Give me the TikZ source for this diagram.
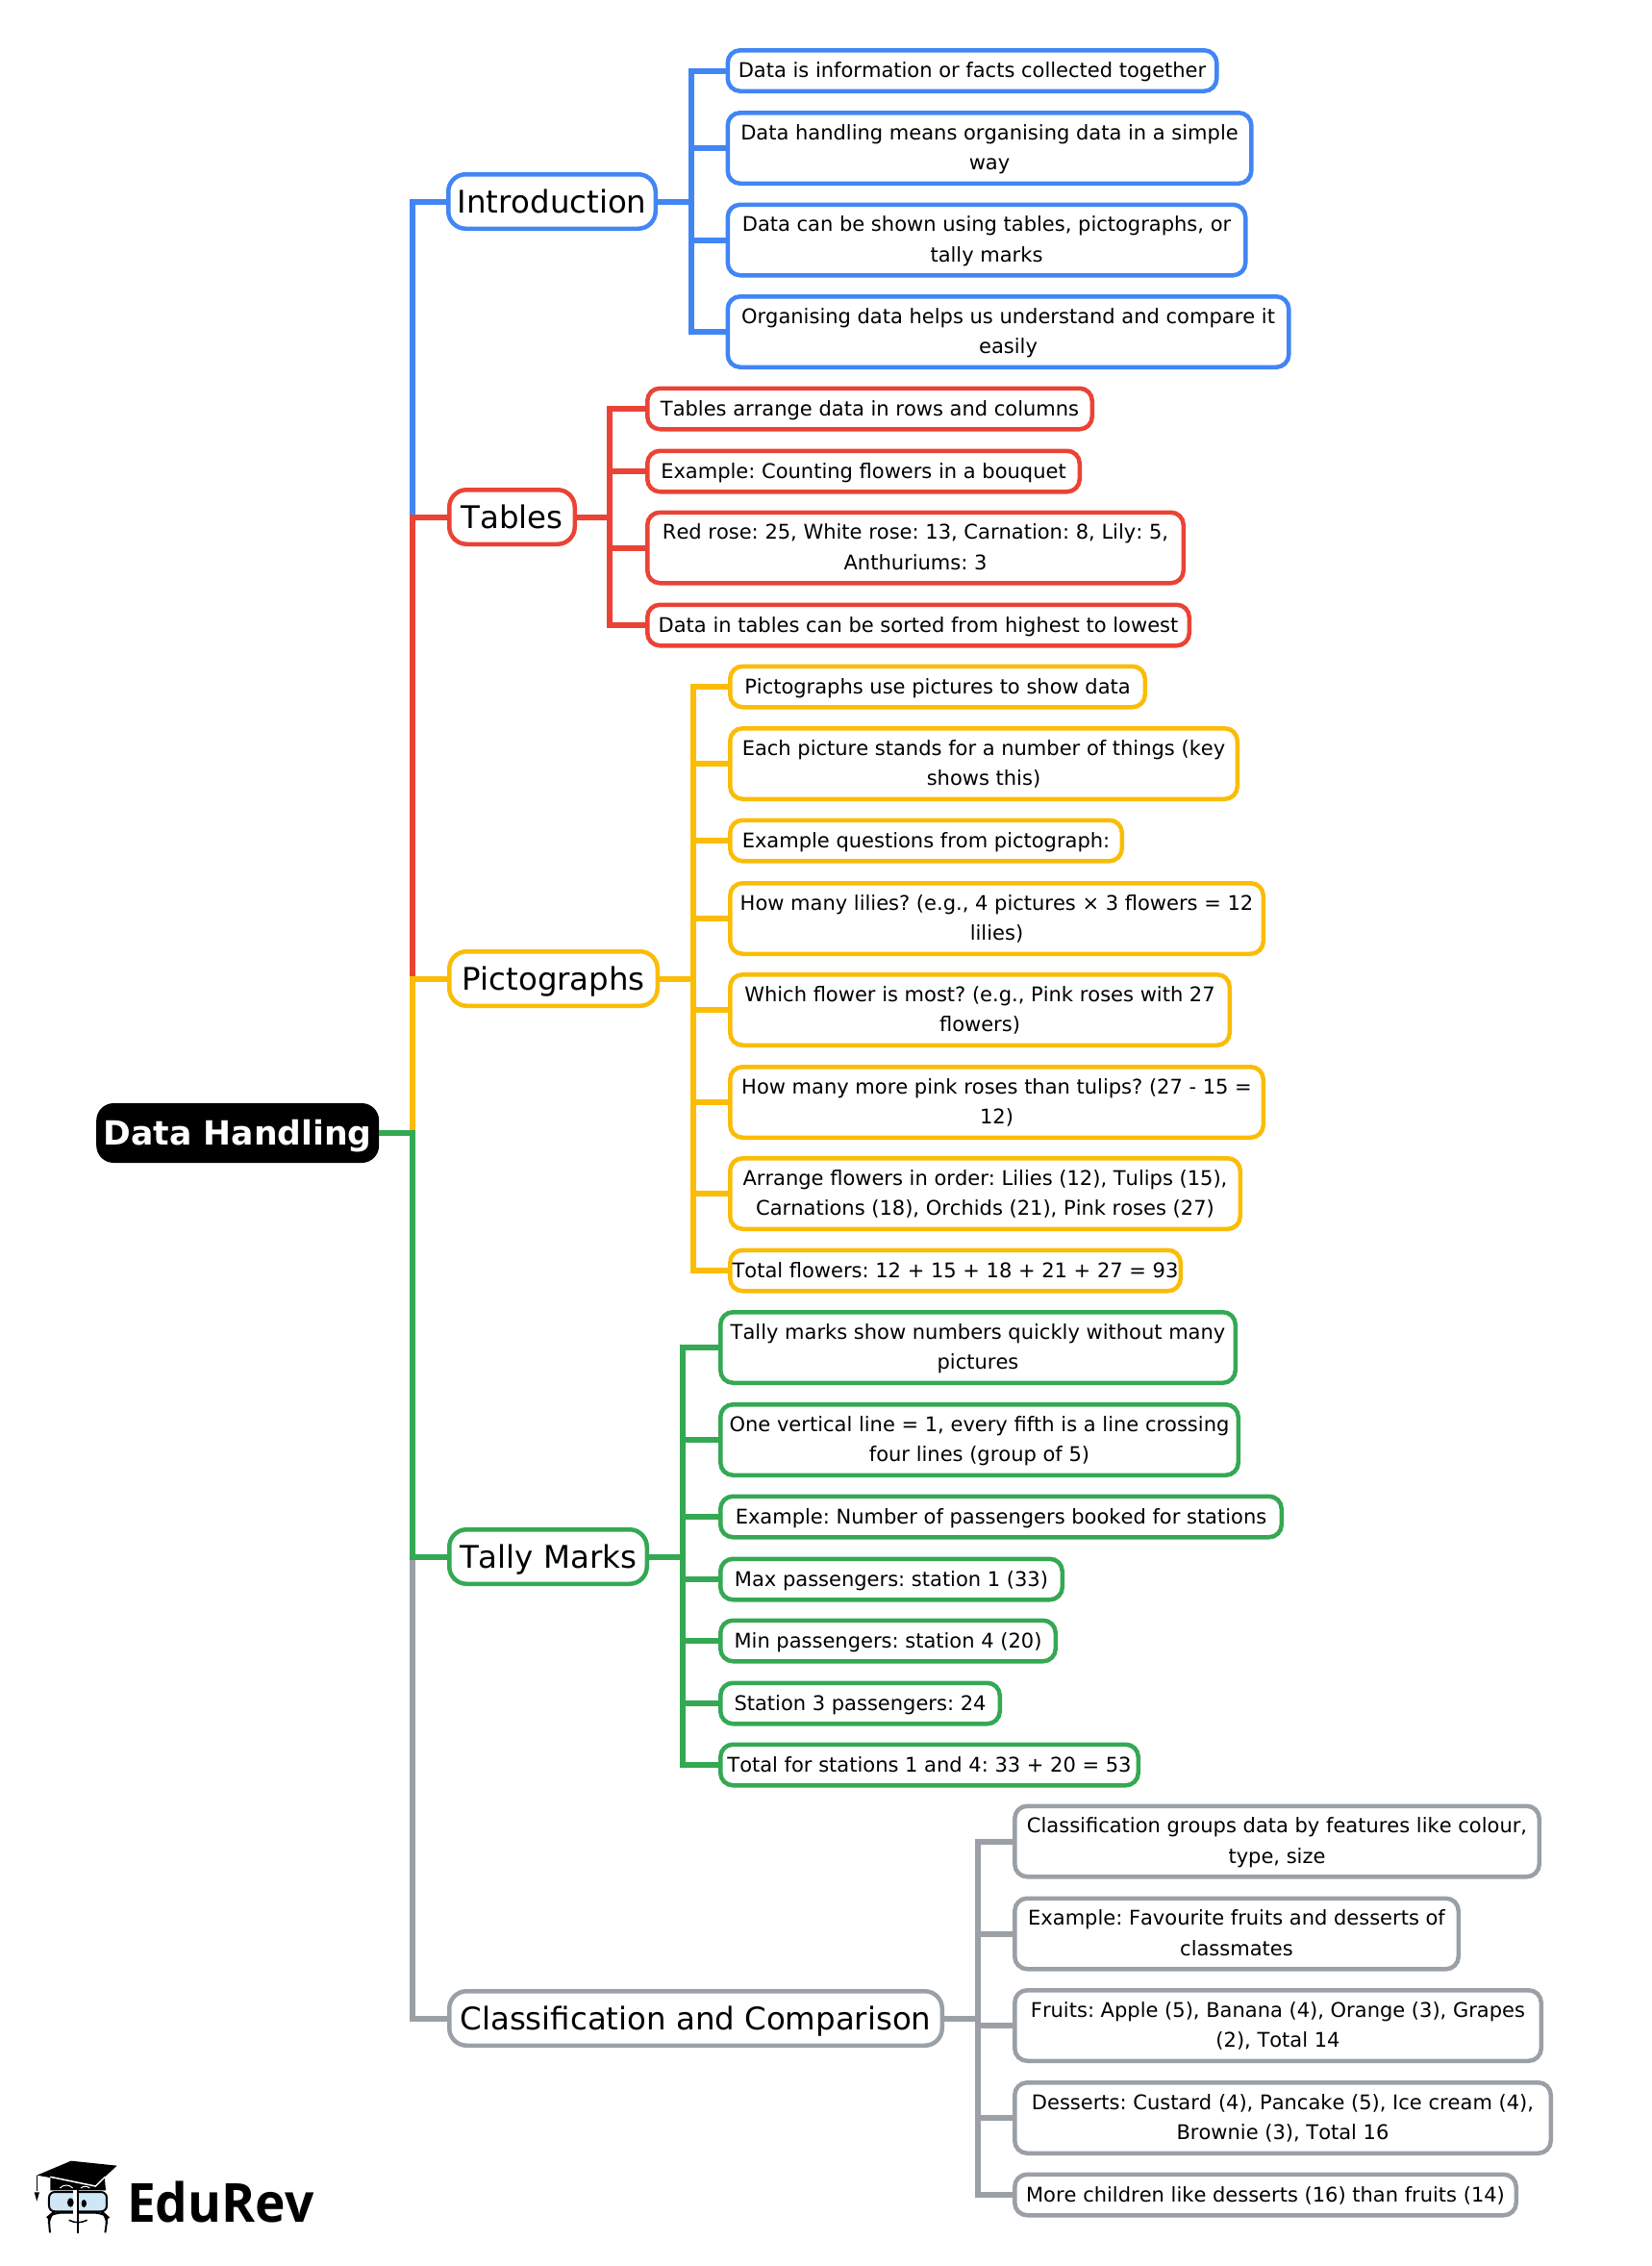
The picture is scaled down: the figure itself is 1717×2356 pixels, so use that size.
\documentclass[tikz,border=0pt]{standalone}
\usepackage{fontspec}
\setmainfont[Kerning=Off]{DejaVu Sans}
\newfontfamily\brandfont[FakeStretch=0.95]{Open Sans}
\definecolor{bluec}{HTML}{4285F4}
\definecolor{redc}{HTML}{EA4335}
\definecolor{yellowc}{HTML}{FBBC05}
\definecolor{greenc}{HTML}{34A853}
\definecolor{grayc}{HTML}{9AA0A6}
\definecolor{lensc}{HTML}{CFE6F5}
\newcommand{\leafstrut}{\rule[-7pt]{0pt}{28.4pt}}
\newcommand{\branchstrut}{\rule[-8pt]{0pt}{40.6pt}}
\newcommand{\rootstrut}{\rule[-9pt]{0pt}{43.4pt}}
\tikzset{
  root/.style={fill=black, text=white, rounded corners=18pt, anchor=west, inner sep=0pt, minimum width=294pt, minimum height=62pt, font=\fontsize{34.6}{35}\selectfont\bfseries, execute at end node=\rootstrut},
  branch/.style={draw=#1, fill=white, line width=4.5pt, rounded corners=18pt, anchor=west, inner sep=0pt, minimum height=61pt-\pgflinewidth, font=\fontsize{32.4}{32}\selectfont, execute at end node=\branchstrut},
  leaf/.style={draw=#1, fill=white, line width=4.5pt, rounded corners=13pt, anchor=west, inner sep=0pt, align=center, font=\frenchspacing\fontsize{21}{31.5}\selectfont, execute at end node=\leafstrut},
  one/.style={minimum height=47pt-\pgflinewidth},
  two/.style={minimum height=78pt-\pgflinewidth},
  wide/.style={minimum width=#1pt-\pgflinewidth},
  link/.style={draw=#1, line width=6pt}
}
\begin{document}
\begin{tikzpicture}[x=1pt, y=-1pt]
\useasboundingbox (0,0) rectangle (1717,2356);

\node[root] (handling) at (100,1178) {Data Handling};

\node[branch=bluec, wide=220] (intro) at (464,209.5) {Introduction};
\node[branch=redc, wide=135] (tables) at (465,537.5) {Tables};
\node[branch=yellowc, wide=221] (picto) at (465,1017.5) {Pictographs};
\node[branch=greenc, wide=210] (tally) at (465,1618.5) {Tally Marks};
\node[branch=grayc, wide=517] (classif) at (465,2098.5) {Classification and Comparison};

\node[leaf=bluec, one, wide=513] (intro1) at (754.5,73.5) {Data is information or facts collected together};
\node[leaf=bluec, two, wide=549] (intro2) at (754.5,154) {\leafstrut Data handling means organising data in a simple\\way};
\node[leaf=bluec, two, wide=543] (intro3) at (754.5,249.5) {\leafstrut Data can be shown using tables, pictographs, or\\tally marks};
\node[leaf=bluec, two, wide=588] (intro4) at (754.5,345) {\leafstrut Organising data helps us understand and compare it\\easily};

\node[leaf=redc, one, wide=467] (tables1) at (671,425) {Tables arrange data in rows and columns};
\node[leaf=redc, one, wide=454] (tables2) at (671,490) {Example: Counting flowers in a bouquet};
\node[leaf=redc, two, wide=562] (tables3) at (671,569.5) {\leafstrut Red rose: 25, White rose: 13, Carnation: 8, Lily: 5,\\Anthuriums: 3};
\node[leaf=redc, one, wide=568] (tables4) at (671,650) {Data in tables can be sorted from highest to lowest};

\node[leaf=yellowc, one, wide=436] (picto1) at (757,714) {Pictographs use pictures to show data};
\node[leaf=yellowc, two, wide=532] (picto2) at (757,794) {\leafstrut Each picture stands for a number of things (key\\shows this)};
\node[leaf=yellowc, one, wide=412] (picto3) at (757,874) {Example questions from pictograph:};
\node[leaf=yellowc, two, wide=559] (picto4) at (757,955) {\leafstrut How many lilies? (e.g., 4 pictures × 3 flowers = 12\\lilies)};
\node[leaf=yellowc, two, wide=524] (picto5) at (757,1050) {\leafstrut Which flower is most? (e.g., Pink roses with 27\\flowers)};
\node[leaf=yellowc, two, wide=559] (picto6) at (757,1146) {\leafstrut How many more pink roses than tulips? (27 - 15 =\\12)};
\node[leaf=yellowc, two, wide=535] (picto7) at (757,1241) {\leafstrut Arrange flowers in order: Lilies (12), Tulips (15),\\Carnations (18), Orchids (21), Pink roses (27)};
\node[leaf=yellowc, one, wide=473] (picto8) at (757,1321) {Total flowers: 12 + 15 + 18 + 21 + 27 = 93};

\node[leaf=greenc, two, wide=540] (tally1) at (747,1401) {\leafstrut Tally marks show numbers quickly without many\\pictures};
\node[leaf=greenc, two, wide=543] (tally2) at (747,1497) {\leafstrut One vertical line = 1, every fifth is a line crossing\\four lines (group of 5)};
\node[leaf=greenc, one, wide=588] (tally3) at (747,1577) {Example: Number of passengers booked for stations};
\node[leaf=greenc, one, wide=360] (tally4) at (747,1642) {Max passengers: station 1 (33)};
\node[leaf=greenc, one, wide=353] (tally5) at (747,1706) {Min passengers: station 4 (20)};
\node[leaf=greenc, one, wide=295] (tally6) at (747,1771) {Station 3 passengers: 24};
\node[leaf=greenc, one, wide=439] (tally7) at (747,1835) {Total for stations 1 and 4: 33 + 20 = 53};

\node[leaf=grayc, two, wide=550] (classif1) at (1053,1914.5) {\leafstrut Classification groups data by features like colour,\\type, size};
\node[leaf=grayc, two, wide=466] (classif2) at (1053,2010.5) {\leafstrut Example: Favourite fruits and desserts of\\classmates};
\node[leaf=grayc, two, wide=552] (classif3) at (1053,2106) {\leafstrut Fruits: Apple (5), Banana (4), Orange (3), Grapes\\(2), Total 14};
\node[leaf=grayc, two, wide=562] (classif4) at (1053,2202) {\leafstrut Desserts: Custard (4), Pancake (5), Ice cream (4),\\Brownie (3), Total 16};
\node[leaf=grayc, one, wide=526] (classif5) at (1053,2282) {More children like desserts (16) than fruits (14)};

\coordinate (trunk) at (429,1178);
\coordinate (introbus) at (719,209.5);
\coordinate (tablesbus) at (634,537.5);
\coordinate (pictobus) at (721,1017.5);
\coordinate (tallybus) at (710,1618.5);
\coordinate (classifbus) at (1016.5,2098.5);

\draw[link=bluec] (handling.east) -- (trunk) |- (intro.west);
\draw[link=redc] (handling.east) -- (trunk) |- (tables.west);
\draw[link=yellowc] (handling.east) -- (trunk) |- (picto.west);
\draw[link=grayc] (handling.east) -- (trunk) |- (classif.west);
\draw[link=greenc] (handling.east) -- (trunk) |- (tally.west);

\draw[link=bluec] (intro.east) -- (introbus) |- (intro1.west);
\draw[link=bluec] (intro.east) -- (introbus) |- (intro2.west);
\draw[link=bluec] (intro.east) -- (introbus) |- (intro3.west);
\draw[link=bluec] (intro.east) -- (introbus) |- (intro4.west);

\draw[link=redc] (tables.east) -- (tablesbus) |- (tables1.west);
\draw[link=redc] (tables.east) -- (tablesbus) |- (tables2.west);
\draw[link=redc] (tables.east) -- (tablesbus) |- (tables3.west);
\draw[link=redc] (tables.east) -- (tablesbus) |- (tables4.west);

\draw[link=yellowc] (picto.east) -- (pictobus) |- (picto1.west);
\draw[link=yellowc] (picto.east) -- (pictobus) |- (picto2.west);
\draw[link=yellowc] (picto.east) -- (pictobus) |- (picto3.west);
\draw[link=yellowc] (picto.east) -- (pictobus) |- (picto4.west);
\draw[link=yellowc] (picto.east) -- (pictobus) |- (picto5.west);
\draw[link=yellowc] (picto.east) -- (pictobus) |- (picto6.west);
\draw[link=yellowc] (picto.east) -- (pictobus) |- (picto7.west);
\draw[link=yellowc] (picto.east) -- (pictobus) |- (picto8.west);

\draw[link=greenc] (tally.east) -- (tallybus) |- (tally1.west);
\draw[link=greenc] (tally.east) -- (tallybus) |- (tally2.west);
\draw[link=greenc] (tally.east) -- (tallybus) |- (tally3.west);
\draw[link=greenc] (tally.east) -- (tallybus) |- (tally4.west);
\draw[link=greenc] (tally.east) -- (tallybus) |- (tally5.west);
\draw[link=greenc] (tally.east) -- (tallybus) |- (tally6.west);
\draw[link=greenc] (tally.east) -- (tallybus) |- (tally7.west);

\draw[link=grayc] (classif.east) -- (classifbus) |- (classif1.west);
\draw[link=grayc] (classif.east) -- (classifbus) |- (classif2.west);
\draw[link=grayc] (classif.east) -- (classifbus) |- (classif3.west);
\draw[link=grayc] (classif.east) -- (classifbus) |- (classif4.west);
\draw[link=grayc] (classif.east) -- (classifbus) |- (classif5.west);

\begin{scope}[yshift=-2180pt, x=0.3333pt, y=-0.3333pt]
\fill (157,250) -- (157,292) -- (330,292) -- (325,235) -- cycle;
\fill (115,245) -- (222,200) -- (365,215) -- (298,277) -- cycle;
\draw[white, line width=1.5pt] (157,250) -- (298,279) -- (328,250);
\draw[white, line width=1pt] (187,285) to[bend left=50] (227,285);
\draw[white, line width=1pt] (252,285) to[bend left=40] (280,285);
\draw[line width=1pt] (115,245) -- (115,295);
\fill (107,298) -- (123,298) -- (115,326) -- cycle;
\draw[fill=lensc, line width=2pt, rounded corners=6pt] (153,297) rectangle (333,358);
\draw[line width=2pt, rounded corners=8pt] (156,424) -- (153,400) -- (153,372) -- (165,362) -- (322,362) -- (333,372) -- (333,400) -- (328,424);
\draw[white, line width=4pt] (235,290) -- (235,426);
\draw[line width=2pt] (242,292) -- (242,426);
\fill (220,330) ellipse[x radius=10, y radius=14];
\fill (262,333) ellipse[x radius=8, y radius=12];
\draw[line width=1.5pt] (215,385) to[bend right=25] (272,385);
\end{scope}

\node[anchor=base west, inner sep=0pt, font=\fontsize{56}{56}\brandfont\bfseries] (edurev) at (132,2310) {EduRev};
\end{tikzpicture}
\end{document}
